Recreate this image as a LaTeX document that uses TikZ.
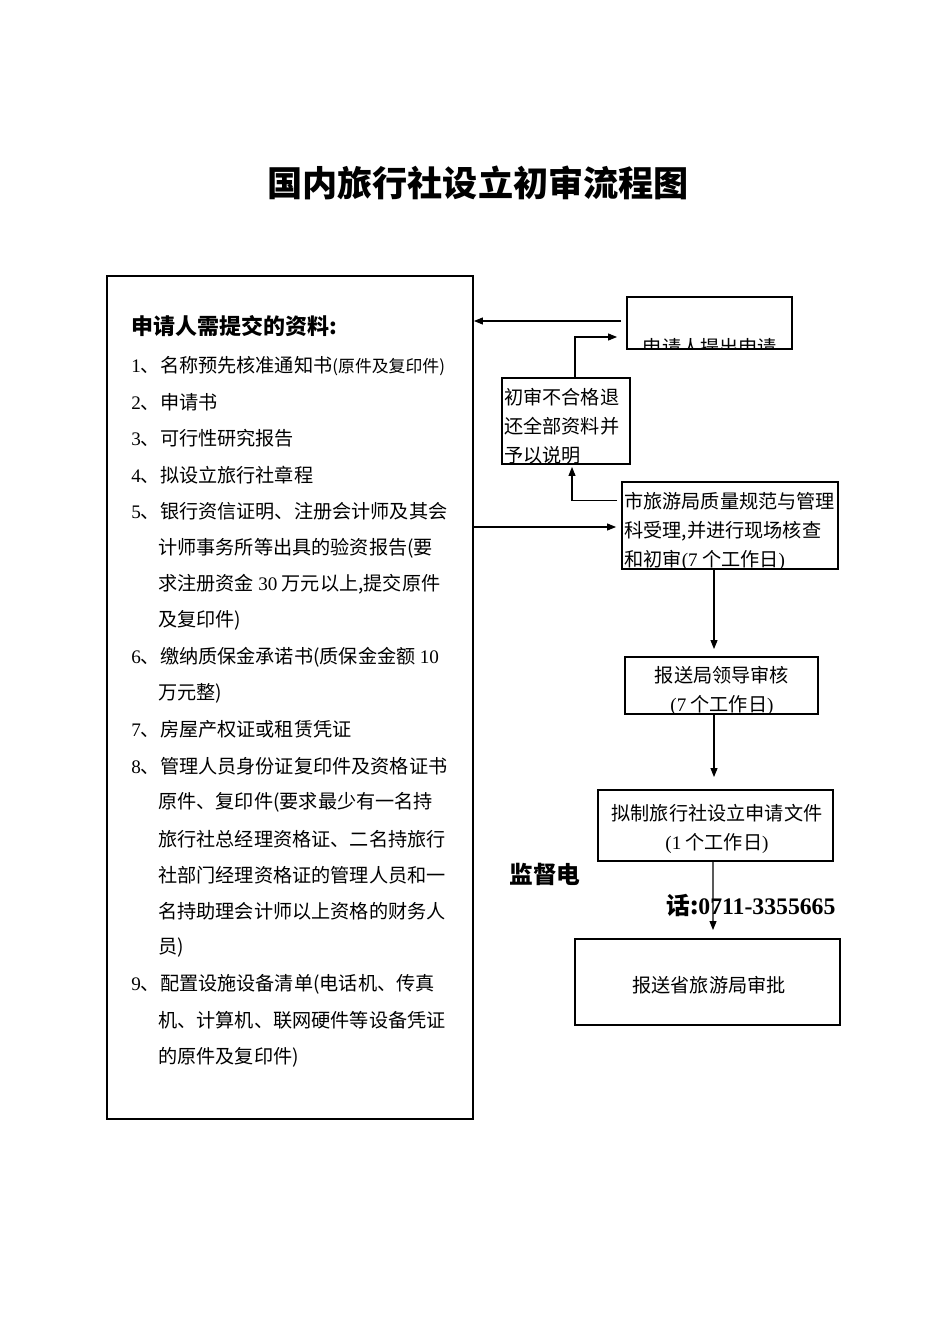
\documentclass[tikz,border=0pt]{standalone}
\usepackage{fontspec}
\setmainfont{Noto Sans CJK SC}
\newfontfamily\latfont{Liberation Serif}
\newcommand{\latn}[1]{{\latfont #1}}
\usetikzlibrary{positioning,arrows.meta,calc}

\begin{document}
\begin{tikzpicture}[x=0.02cm,y=-0.02cm,
      box/.style={rectangle,draw,line width=1.1pt,inner sep=0pt},
      arr/.style={-{Triangle[length=1.8mm,width=1.4mm]},line width=0.6pt},
      txt/.style={inner sep=0pt,font=\fontsize{10.9pt}{16.5pt}\selectfont},
      item/.style={inner sep=0pt,anchor=west,font=\fontsize{10.9pt}{13pt}\selectfont},
      big/.style={inner sep=0pt,font=\bfseries\fontsize{13.5pt}{16pt}\selectfont}]
    \useasboundingbox (0,0) rectangle (950,1344);
    \node[font=\bfseries\fontsize{20pt}{24pt}\selectfont] (title) at (478,183) {国内旅行社设立初审流程图};
    % boxes
    \node[box,minimum width=7.32cm,minimum height=16.86cm] (docs) at (290,697.5) {};
    \node[box,minimum width=3.3cm,minimum height=1.04cm] (apply) at (709.5,323) {};
    \node[box,minimum width=2.56cm,minimum height=1.72cm] (reject) at (566,421) {};
    \node[box,minimum width=4.32cm,minimum height=1.74cm] (accept) at (730,525.5) {};
    \node[box,minimum width=3.86cm,minimum height=1.14cm] (leader) at (721.5,685.5) {};
    \node[box,minimum width=4.7cm,minimum height=1.42cm] (draft) at (715.5,825.5) {};
    \node[box,minimum width=5.3cm,minimum height=1.72cm] (prov) at (707.5,982) {};
    % list of documents
    \node[anchor=west,inner sep=0pt,font=\bfseries\fontsize{12.5pt}{15pt}\selectfont] (head) at (131,326) {申请人需提交的资料:};
    \foreach \i/\x/\lbl in {
        1/131/{\latn{1}、名称预先核准通知书{\fontsize{9.6pt}{12pt}\selectfont(原件及复印件)}},
        2/131/{\latn{2}、申请书},
        3/131/{\latn{3}、可行性研究报告},
        4/131/{\latn{4}、拟设立旅行社章程},
        5/131/{\latn{5}、银行资信证明、注册会计师及其会},
        6/158/{计师事务所等出具的验资报告(要},
        7/158/{求注册资金 \latn{30} 万元以上,提交原件},
        8/158/{及复印件)},
        9/131/{\latn{6}、缴纳质保金承诺书(质保金金额 \latn{10}},
        10/158/{万元整)},
        11/131/{\latn{7}、房屋产权证或租赁凭证},
        12/131/{\latn{8}、管理人员身份证复印件及资格证书},
        13/158/{原件、复印件(要求最少有一名持},
        14/158/{旅行社总经理资格证、二名持旅行},
        15/158/{社部门经理资格证的管理人员和一},
        16/158/{名持助理会计师以上资格的财务人},
        17/158/{员)},
        18/131/{\latn{9}、配置设施设备清单(电话机、传真},
        19/158/{机、计算机、联网硬件等设备凭证},
        20/158/{的原件及复印件)}} {
      \node[item] (ln\i) at (\x,{366+36.37*(\i-1)}) {\lbl};
    }
    % box texts
    \begin{scope}
      \clip (apply.south west) rectangle (apply.north east);
      \node[txt] (applyt) at (710,347) {申请人提出申请};
    \end{scope}
    \node[txt,align=left,anchor=west] (rejectt) at (504,426) {初审不合格退\\还全部资料并\\予以说明};
    \node[txt,align=left,anchor=west] (acceptt) at (624,531) {市旅游局质量规范与管理\\科受理,并进行现场核查\\和初审\latn{(7} 个工作日\latn{)}};
    \node[txt,align=center] (leadert) at (722,690.5) {报送局领导审核\\\latn{(7} 个工作日\latn{)}};
    \node[txt,align=center] (draftt) at (717,828.5) {拟制旅行社设立申请文件\\\latn{(1} 个工作日\latn{)}};
    \node[txt] (provt) at (709,985) {报送省旅游局审批};
    % connectors
    \draw[arr] ($(apply.west)+(-5,-2)$) coordinate (a1) -- (a1 -| docs.east);
    \draw[arr] ($(reject.north)+(9,0)$) |- ($(apply.west)+(-9,14)$);
    \draw[arr] ($(accept.west)+(-4,-25)$) -| ($(reject.south)+(6,2)$);
    \coordinate (a4) at ($(accept.west)+(-5,1.5)$);
    \draw[arr] (docs.east |- a4) -- (a4);
    \draw[arr] ($(accept.south)+(-16,0)$) -- ($(leader.north)+(-7.5,-7)$);
    \draw[arr] ($(leader.south)+(-7.5,0)$) -- ($(draft.north)+(-1.5,-12)$);
    \draw[arr] ($(draft.south)+(-2.5,0)$) -- ($(prov.north)+(5.5,-8)$);
    % supervision phone
    \node[big] (phoneA) at (545,874) {监督电};
    \node[big,anchor=west] (phoneB) at (666,906) {话:\latn{0711-3355665}};
  \end{tikzpicture}
\end{document}
